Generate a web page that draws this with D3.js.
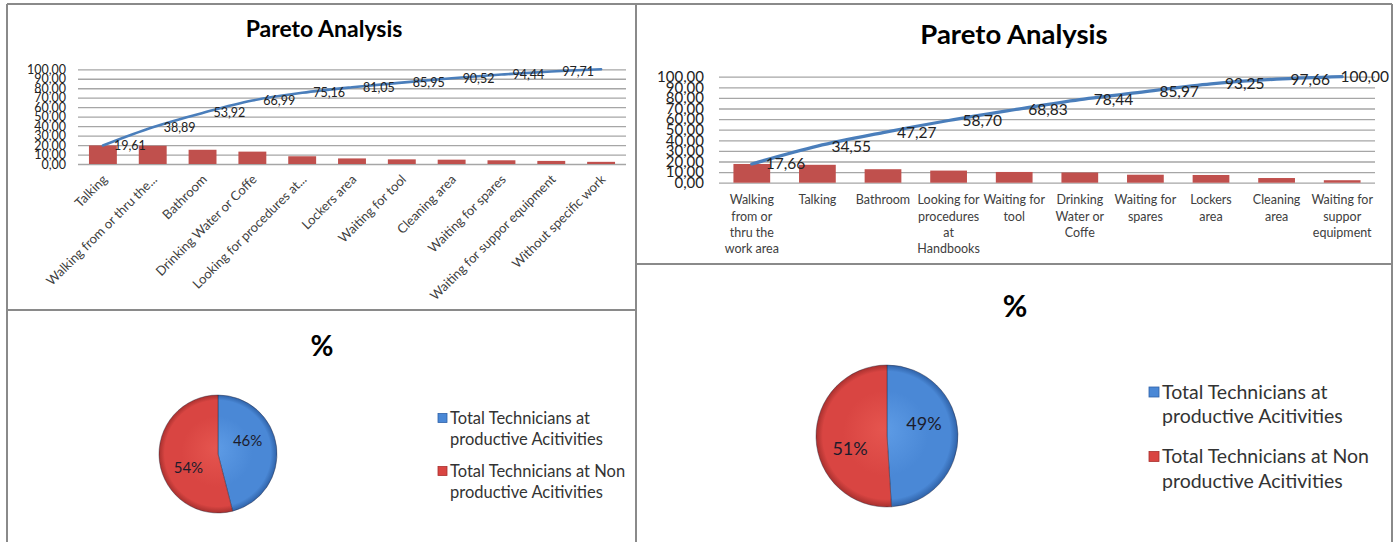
<!DOCTYPE html>
<html>
<head>
<meta charset="utf-8">
<script src="https://cdn.jsdelivr.net/npm/d3@7/dist/d3.min.js"></script>
<style>
  body { margin: 0; background: #fff; }
  svg { display: block; font-family: Lato, "Open Sans", sans-serif; }
</style>
</head>
<body>
<div id="chartArea"></div>
<script>
// ---- data ----
const leftCategories = ["Talking", "Walking from or thru the...", "Bathroom", "Drinking Water or Coffe",
  "Looking for procedures at...", "Lockers area", "Waiting for tool", "Cleaning area",
  "Waiting for spares", "Waiting for suppor equipment", "Without specific work"];
const leftValues = [19.61, 19.28, 15.03, 13.07, 8.17, 5.89, 4.90, 4.57, 3.92, 3.27, 2.29];
const leftCumulative = [19.61, 38.89, 53.92, 66.99, 75.16, 81.05, 85.95, 90.52, 94.44, 97.71, 100.00];

const rightCategories = ["Walking\nfrom or\nthru the\nwork area", "Talking", "Bathroom",
  "Looking for\nprocedures\nat\nHandbooks", "Waiting for\ntool", "Drinking\nWater or\nCoffe",
  "Waiting for\nspares", "Lockers\narea", "Cleaning\narea", "Waiting for\nsuppor\nequipment"];
const rightValues = [17.66, 16.89, 12.72, 11.43, 10.13, 9.61, 7.53, 7.28, 4.41, 2.34];
const rightCumulative = [17.66, 34.55, 47.27, 58.70, 68.83, 78.44, 85.97, 93.25, 97.66, 100.00];

const yTicks = [0, 10, 20, 30, 40, 50, 60, 70, 80, 90, 100];

const pieNames = ["Total Technicians at\nproductive Acitivities", "Total Technicians at Non\nproductive Acitivities"];
const leftPieValues = [46, 54];
const rightPieValues = [49, 51];

// colours
const barRed = "#c0504d";
const lineBlue = "#4a7ebb";
const gridGrey = "#a6a6a6";
const borderGrey = "#8a8a8a";
const textDark = "#404040";
const pieColors = [
  { light: "#5e9ce6", base: "#4a88d6", dark: "#2f62a8" },
  { light: "#e5554f", base: "#d94542", dark: "#a8302e" }
];

const svg = d3.select("#chartArea").append("svg")
  .attr("width", 1398)
  .attr("height", 542);
const defs = svg.append("defs");

const comma = v => d3.format(".2f")(v).replace(".", ",");

// panel borders
const borders = [
  [7, 4, 1392, 4], [7, 4, 7, 542], [1392, 4, 1392, 542], [636, 4, 636, 542],
  [7, 310, 636, 310], [636, 264, 1392, 264]
];
svg.selectAll("line.border").data(borders).enter().append("line")
  .attr("class", "border")
  .attr("x1", d => d[0]).attr("y1", d => d[1])
  .attr("x2", d => d[2]).attr("y2", d => d[3])
  .attr("stroke", borderGrey).attr("stroke-width", 2);

function drawPareto(o) {
  const g = svg.append("g");
  const x = d3.scaleBand().domain(o.cats).range([o.left, o.right])
    .paddingInner(0.44).paddingOuter(0.22);
  const y = d3.scaleLinear().domain([0, 100]).range([o.bottom, o.top]);
  const cx = c => x(c) + x.bandwidth() / 2;

  g.append("text")
    .attr("x", o.titleX).attr("y", o.titleY)
    .attr("text-anchor", "middle")
    .attr("font-weight", "bold").attr("font-size", o.titleSize)
    .attr("fill", "#000")
    .text("Pareto Analysis");

  // grid
  const grid = g.append("g").attr("transform", `translate(${o.left},0)`)
    .call(d3.axisLeft(y).tickValues(yTicks).tickSize(-(o.right - o.left)).tickFormat(""));
  grid.select(".domain").remove();
  grid.selectAll("line").attr("stroke", gridGrey).attr("stroke-width", 1.3);

  // tick labels
  const ax = g.append("g").attr("transform", `translate(${o.left},0)`)
    .call(d3.axisLeft(y).tickValues(yTicks).tickSize(0).tickPadding(o.tickPad).tickFormat(comma));
  ax.select(".domain").remove();
  ax.selectAll("text").attr("font-size", o.tickSize).attr("font-family", "Lato").attr("fill", "#222");

  // bars
  g.selectAll("rect.bar").data(o.values).enter().append("rect")
    .attr("class", "bar")
    .attr("x", (d, i) => x(o.cats[i]))
    .attr("width", x.bandwidth())
    .attr("y", d => y(d))
    .attr("height", d => y(0) - y(d))
    .attr("fill", barRed);

  // cumulative line
  const line = d3.line()
    .x((d, i) => cx(o.cats[i]))
    .y(d => y(d))
    .curve(d3.curveCatmullRom.alpha(0.5));
  g.append("path").datum(o.cum)
    .attr("d", line)
    .attr("fill", "none")
    .attr("stroke", lineBlue)
    .attr("stroke-width", o.lineWidth)
    .attr("stroke-linecap", "round");

  const shown = o.hideLast ? o.cum.slice(0, -1) : o.cum;
  g.selectAll("text.dl").data(shown).enter().append("text")
    .attr("class", "dl")
    .attr("x", (d, i) => cx(o.cats[i]) + o.labelOffset)
    .attr("y", d => y(d))
    .attr("dy", "0.35em")
    .attr("font-size", o.labelSize)
    .attr("fill", "#222")
    .text(comma)
    .each(function () {
      const w = this.getComputedTextLength();
      const xx = +this.getAttribute("x");
      if (xx + w > o.labelMaxX) this.setAttribute("x", o.labelMaxX - w);
    });

  // category labels
  if (o.rotate) {
    g.selectAll("text.cat").data(o.cats).enter().append("text")
      .attr("class", "cat")
      .attr("transform", d => `translate(${cx(d) + 2},${o.bottom + 13}) rotate(-45)`)
      .attr("text-anchor", "end")
      .attr("dy", "0.35em")
      .attr("font-size", o.catSize)
      .attr("fill", textDark)
      .text(d => d);
  } else {
    const t = g.selectAll("text.cat").data(o.cats).enter().append("text")
      .attr("class", "cat")
      .attr("text-anchor", "middle")
      .attr("font-size", o.catSize)
      .attr("fill", textDark);
    t.each(function (d) {
      const el = d3.select(this);
      d.split("\n").forEach((s, k) => {
        el.append("tspan")
          .attr("x", cx(d))
          .attr("y", o.catY + k * o.catLine)
          .attr("dy", "0.35em")
          .text(s);
      });
    });
  }
}

function drawPie(o) {
  const g = svg.append("g");
  g.append("text")
    .attr("x", o.titleX).attr("y", o.titleY)
    .attr("text-anchor", "middle")
    .attr("font-weight", "bold").attr("font-size", o.titleSize)
    .attr("fill", "#000")
    .text("%");

  // gradients live in the pie group's own (translated) space
  pieColors.forEach((c, i) => {
    const gr = defs.append("radialGradient")
      .attr("id", `${o.id}-g${i}`)
      .attr("gradientUnits", "userSpaceOnUse")
      .attr("cx", 0).attr("cy", 0).attr("r", o.r)
      .attr("fx", -o.r * 0.05).attr("fy", -o.r * 0.1);
    gr.append("stop").attr("offset", "0%").attr("stop-color", c.light);
    gr.append("stop").attr("offset", "60%").attr("stop-color", c.base);
    gr.append("stop").attr("offset", "90%").attr("stop-color", c.base);
    gr.append("stop").attr("offset", "100%").attr("stop-color", c.dark);
  });

  const pie = d3.pie().sort(null);
  const arcs = pie(o.values);
  const arc = d3.arc().innerRadius(0).outerRadius(o.r);
  const pg = g.append("g").attr("transform", `translate(${o.cx},${o.cy})`);
  pg.selectAll("path").data(arcs).enter().append("path")
    .attr("d", arc)
    .attr("fill", (d, i) => `url(#${o.id}-g${i})`)
    .attr("stroke", "rgba(40,40,60,0.5)")
    .attr("stroke-width", 0.8);

  const shift = -17 * Math.PI / 180;
  pg.selectAll("text").data(arcs).enter().append("text")
    .attr("x", d => Math.sin((d.startAngle + d.endAngle) / 2 + shift) * o.r * 0.55)
    .attr("y", d => -Math.cos((d.startAngle + d.endAngle) / 2 + shift) * o.r * 0.55)
    .attr("dy", "0.35em")
    .attr("text-anchor", "middle")
    .attr("font-size", o.labelSize)
    .attr("fill", "#1c1c2c")
    .text(d => d.data + "%");

  // legend
  const lg = g.append("g");
  pieNames.forEach((name, i) => {
    const y0 = o.legendY + i * o.legendGap;
    lg.append("rect")
      .attr("x", o.legendX).attr("y", y0 - o.sq / 2)
      .attr("width", o.sq).attr("height", o.sq)
      .attr("fill", pieColors[i].base)
      .attr("stroke", pieColors[i].dark).attr("stroke-width", 0.8);
    const t = lg.append("text").attr("font-size", o.legendSize).attr("fill", "#333");
    name.split("\n").forEach((s, k) => {
      t.append("tspan")
        .attr("x", o.legendX + o.sq + 3)
        .attr("y", y0 + k * o.legendLine)
        .attr("dy", "0.35em")
        .text(s);
    });
  });
}

drawPareto({
  cats: leftCategories, values: leftValues, cum: leftCumulative,
  left: 78, right: 626, top: 69.3, bottom: 164,
  titleX: 324, titleY: 37, titleSize: 23,
  tickSize: 12.5, tickPad: 12, labelSize: 12.5, labelOffset: 11, labelMaxX: 630,
  lineWidth: 2.6, hideLast: true, rotate: true, catSize: 13
});

drawPareto({
  cats: rightCategories, values: rightValues, cum: rightCumulative,
  left: 719, right: 1375, top: 76.7, bottom: 182.7,
  titleX: 1014, titleY: 44, titleSize: 27.5,
  tickSize: 15, tickPad: 15, labelSize: 15.5, labelOffset: 14, labelMaxX: 1389,
  lineWidth: 3.2, hideLast: false, rotate: false, catSize: 12.5, catY: 200, catLine: 16.2
});

drawPie({
  id: "pl", values: leftPieValues, cx: 218, cy: 454, r: 59,
  titleX: 322, titleY: 356, titleSize: 28, labelSize: 15,
  legendX: 438, legendY: 418, legendGap: 53, legendLine: 21.5, sq: 9, legendSize: 16.5
});

drawPie({
  id: "pr", values: rightPieValues, cx: 887, cy: 436, r: 71,
  titleX: 1015, titleY: 317, titleSize: 30, labelSize: 18,
  legendX: 1149, legendY: 392, legendGap: 64.5, legendLine: 24.5, sq: 10, legendSize: 19.5
});
</script>
</body>
</html>
